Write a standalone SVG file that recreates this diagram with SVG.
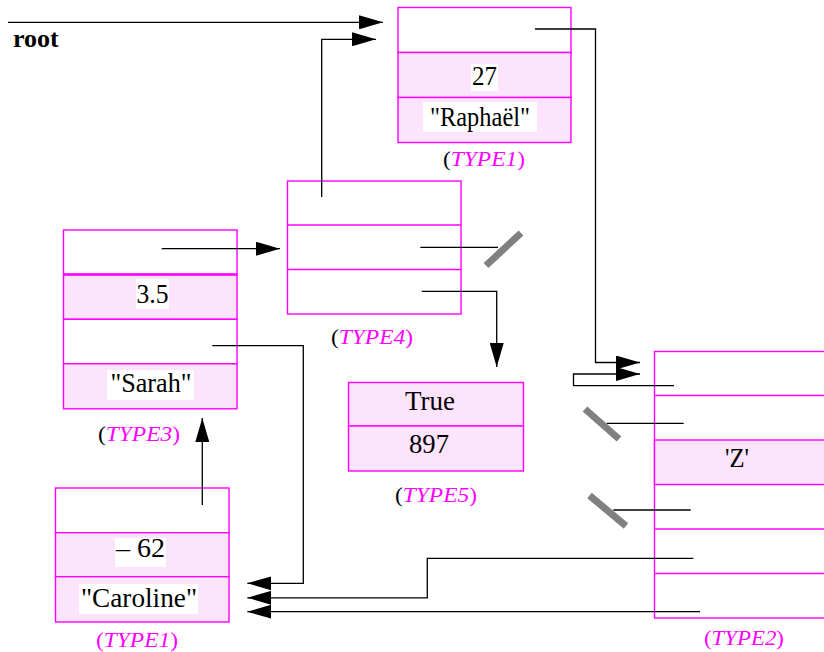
<svg xmlns="http://www.w3.org/2000/svg" width="824" height="652" viewBox="0 0 824 652">
<style>
.box{fill:#fff;stroke:#ff00ff;stroke-width:1.4}
.pk{fill:#fde4fd;stroke:#ff00ff;stroke-width:1.4}
.div{stroke:#ff00ff;stroke-width:1.4;fill:none}
.v{font-family:'Liberation Serif','Times New Roman',serif;font-size:26.5px;fill:#000;text-anchor:middle}
.bg{fill:#fff}
.lbl{font-family:'Liberation Serif','Times New Roman',serif;font-size:22px;fill:#ff00ff;text-anchor:middle}
.it{font-style:italic}
.blk{fill:#000}
.wire{fill:none;stroke:#000;stroke-width:1.3}
.nil{stroke:#808080;stroke-width:7;fill:none}
</style>
<defs>
<marker id="ah" markerWidth="24" markerHeight="14" refX="24" refY="7" orient="auto" markerUnits="userSpaceOnUse">
<path d="M0,0 L24,7 L0,14 Z" fill="#000"/>
</marker>
</defs>
<rect width="824" height="652" fill="#fff"/>

<g id="t1top">
<rect class="box" x="398" y="7.5" width="173" height="45"/>
<rect class="pk" x="398" y="52.5" width="173" height="45"/>
<rect class="pk" x="398" y="97.5" width="173" height="45"/>
<rect class="bg" x="471" y="64" width="27" height="27"/>
<text class="v" x="484.5" y="85" textLength="25" lengthAdjust="spacingAndGlyphs">27</text>
<rect class="bg" x="423" y="102" width="114" height="30"/>
<text class="v" x="480" y="126" textLength="100" lengthAdjust="spacingAndGlyphs">"Raphaël"</text>
<text class="lbl" x="484" y="166" textLength="82" lengthAdjust="spacingAndGlyphs"><tspan class="blk">(</tspan><tspan class="it">TYPE1</tspan>)</text>
</g>

<g id="t4">
<rect class="box" x="287.5" y="181" width="173.5" height="133"/>
<line class="div" x1="287.5" y1="225" x2="461" y2="225"/>
<line class="div" x1="287.5" y1="269.5" x2="461" y2="269.5"/>
<text class="lbl" x="372" y="344" textLength="82" lengthAdjust="spacingAndGlyphs"><tspan class="blk">(</tspan><tspan class="it">TYPE4</tspan>)</text>
</g>

<g id="t3">
<rect class="box" x="63.5" y="230" width="173.5" height="44.5"/>
<rect class="pk" x="63.5" y="274.5" width="173.5" height="44.8"/>
<rect class="box" x="63.5" y="319.3" width="173.5" height="44.5"/>
<rect class="pk" x="63.5" y="363.8" width="173.5" height="45"/>
<line x1="63.5" y1="274.5" x2="237" y2="274.5" stroke="#ff00ff" stroke-width="2.4"/>
<rect class="bg" x="136" y="279" width="33" height="30"/>
<text class="v" x="152.5" y="302.5" textLength="32" lengthAdjust="spacingAndGlyphs">3.5</text>
<rect class="bg" x="107" y="370" width="87" height="30"/>
<text class="v" x="151" y="392" textLength="81" lengthAdjust="spacingAndGlyphs">"Sarah"</text>
<text class="lbl" x="139" y="441" textLength="82" lengthAdjust="spacingAndGlyphs"><tspan class="blk">(</tspan><tspan class="it">TYPE3</tspan>)</text>
</g>

<g id="t5">
<rect class="pk" x="348.5" y="382.5" width="175" height="43.5"/>
<rect class="pk" x="348.5" y="426" width="175" height="45"/>
<text class="v" x="430" y="410" textLength="50" lengthAdjust="spacingAndGlyphs">True</text>
<text class="v" x="429" y="453" textLength="40" lengthAdjust="spacingAndGlyphs">897</text>
<text class="lbl" x="436" y="502" textLength="82" lengthAdjust="spacingAndGlyphs"><tspan class="blk">(</tspan><tspan class="it">TYPE5</tspan>)</text>
</g>

<g id="t2">
<rect class="box" x="654.5" y="351.5" width="180" height="266.5"/>
<rect class="pk" x="654.5" y="440" width="180" height="44.5"/>
<line class="div" x1="654.5" y1="395.5" x2="834" y2="395.5"/>
<line class="div" x1="654.5" y1="529" x2="834" y2="529"/>
<line class="div" x1="654.5" y1="573.5" x2="834" y2="573.5"/>
<text class="v" x="737" y="467" textLength="24" lengthAdjust="spacingAndGlyphs">'Z'</text>
<text class="lbl" x="744" y="645" textLength="80" lengthAdjust="spacingAndGlyphs">(<tspan class="it">TYPE2</tspan>)</text>
</g>

<g id="t1bot">
<rect class="box" x="55.5" y="488" width="173.5" height="44.7"/>
<rect class="pk" x="55.5" y="532.7" width="173.5" height="44"/>
<rect class="pk" x="55.5" y="576.7" width="173.5" height="45.3"/>
<rect class="bg" x="115" y="538" width="51" height="29"/>
<text class="v" x="140.5" y="557" textLength="49" lengthAdjust="spacingAndGlyphs">– 62</text>
<rect class="bg" x="79" y="584" width="119" height="30"/>
<text class="v" x="139" y="607" textLength="116" lengthAdjust="spacingAndGlyphs">"Caroline"</text>
<text class="lbl" x="137" y="647" textLength="82" lengthAdjust="spacingAndGlyphs">(<tspan class="it">TYPE1</tspan>)</text>
</g>

<text id="root" x="13" y="47" font-family="'Liberation Serif','Times New Roman',serif" font-size="26" font-weight="bold">root</text>

<g id="connectors">
<line class="wire" x1="8" y1="22.3" x2="383" y2="22.3" marker-end="url(#ah)"/>
<polyline class="wire" points="321.7,197 321.7,39.3 376,39.3" marker-end="url(#ah)"/>
<polyline class="wire" points="535,29 595.5,29 595.5,362.5 640,362.5" marker-end="url(#ah)"/>
<polyline class="wire" points="674,385.7 573.5,385.7 573.5,374 640,374" marker-end="url(#ah)"/>
<line class="wire" x1="161.7" y1="248.7" x2="280" y2="248.7" marker-end="url(#ah)"/>
<polyline class="wire" points="421.7,291.3 496.7,291.3 496.7,367" marker-end="url(#ah)"/>
<line class="wire" x1="420.3" y1="247.3" x2="498" y2="247.3"/>
<line class="nil" x1="486" y1="265.5" x2="521" y2="233"/>
<polyline class="wire" points="212.3,345.7 303.3,345.7 303.3,583.3 247.3,583.3" marker-end="url(#ah)"/>
<line class="wire" x1="202.3" y1="505" x2="202.3" y2="418" marker-end="url(#ah)"/>
<line class="wire" x1="683.7" y1="423.3" x2="606.7" y2="423.3"/>
<line class="nil" x1="585" y1="409" x2="619" y2="439"/>
<line class="wire" x1="690.7" y1="510" x2="613.3" y2="510"/>
<line class="nil" x1="589.5" y1="495.5" x2="626" y2="526"/>
<polyline class="wire" points="693.3,558.3 427.3,558.3 427.3,597.8 247.3,597.8" marker-end="url(#ah)"/>
<line class="wire" x1="700" y1="611.7" x2="247.3" y2="611.7" marker-end="url(#ah)"/>
</g>
</svg>
